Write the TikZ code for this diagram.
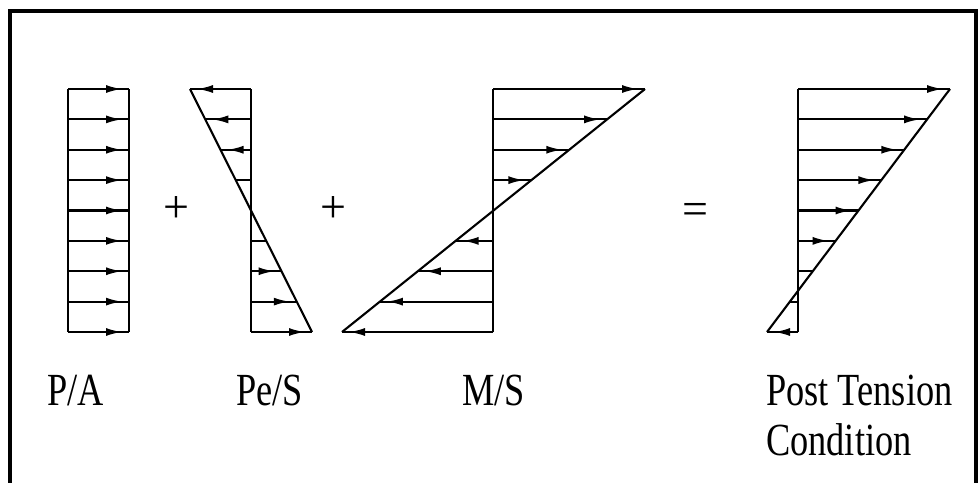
\documentclass[tikz,border=0pt]{standalone}
\usepackage{fontspec}
\usetikzlibrary{arrows.meta}
\newfontfamily\condfont[FakeStretch=0.79]{Liberation Serif}
\newfontfamily\opfont{Liberation Serif}
\tikzset{
  stress/.style={line width=2.1pt},
  head/.style={-{Latex[length=16pt,width=8pt]}, line width=2.1pt},
  frameline/.style={line width=3.5pt},
  lbl/.style={font={\condfont\fontsize{46}{50}\selectfont}, anchor=base west, inner sep=0pt, align=left},
  op/.style={font={\opfont\fontsize{46}{46}\selectfont}, anchor=base, inner sep=0pt}
}
% #1 = x of base line, #2 = value at top, #3 = value at bottom
\newcommand\stressprofile[3]{%
  \foreach \i in {0,...,8}{
    \pgfmathsetmacro\yy{89+30.375*\i}
    \pgfmathsetmacro\vv{#2+(#3-#2)*\i/8}
    \pgfmathsetmacro\av{abs(\vv)}
    \ifdim\av pt>2pt \draw[stress] (#1,\yy) -- ++(\vv,0); \fi
    \ifdim\av pt>29pt
      \pgfmathsetmacro\tip{#1+\vv-7*sign(\vv)}
      \draw[head] (#1,\yy) -- (\tip,\yy);
    \fi
  }
  \draw[stress] (#1,89) -- (#1,332);
  \draw[stress] (#1+#2,89) -- (#1+#3,332);
}
\begin{document}
\begin{tikzpicture}[x=1pt,y=-1pt]
\useasboundingbox (0,0) rectangle (980,482);
% frame (open at the bottom)
\draw[frameline] (10,490) -- (10,11) -- (976,11) -- (976,490);
% stress profiles
\stressprofile{68}{61}{61}
\stressprofile{251}{-61}{61}
\stressprofile{493}{152}{-151}
\stressprofile{798}{152}{-31}
% operators
\node[op] (plus1) at (176,222) {+};
\node[op] (plus2) at (333,222) {+};
\node[op] (eq) at (695,224) {=};
% labels
\node[lbl] (pa) at (47,405) {P/A};
\node[lbl] (pes) at (236,405) {Pe/S};
\node[lbl] (ms) at (462,405) {M/S};
\node[lbl] (ptc) at (766,455) {Post Tension\\Condition};
\end{tikzpicture}
\end{document}
